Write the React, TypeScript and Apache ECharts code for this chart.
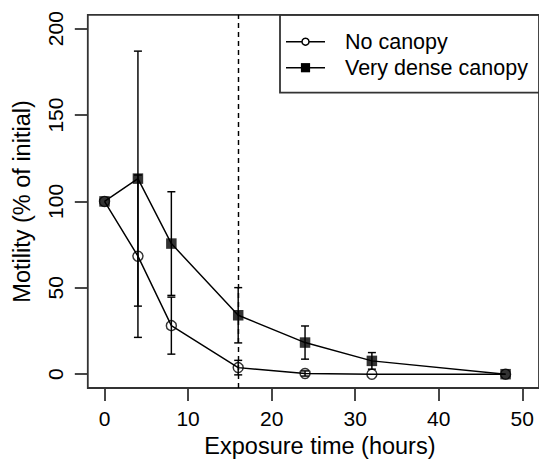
import React, { useEffect, useRef } from "react";
import * as echarts from "echarts";

const hours = [0, 4, 8, 16, 24, 32, 48];
const noCanopy = [100, 68.3, 28.1, 3.8, 0.4, 0, 0];
const noCanopyErr = [0, 47, 16.5, 4.2, 1.5, 0, 0];
const dense = [100, 113.2, 75.6, 34.1, 18.3, 7.7, 0];
const denseErr = [0, 73.8, 30, 16, 9.6, 4.8, 0];
const xTicks = [0, 10, 20, 30, 40, 50];
const yTicks = [0, 50, 100, 150, 200];
const cutoffHour = 16;
const seriesNames = ["No canopy", "Very dense canopy"];
const xTitle = "Exposure time (hours)";
const yTitle = "Motility (% of initial)";

const FONT = "'Liberation Sans', Arial, Helvetica, sans-serif";
const BOX = "#333";
const LW = 1.45;

function pairs(vals: number[]) {
  return hours.map((h, i) => [h, vals[i]]);
}
function errRows(vals: number[], errs: number[]) {
  const out: number[][] = [];
  hours.forEach((h, i) => {
    if (errs[i] > 0) out.push([h, vals[i] - errs[i], vals[i] + errs[i]]);
  });
  return out;
}

const renderErr = (params: any, api: any) => {
  const x = api.value(0);
  const lo = api.value(1);
  const hi = api.value(2);
  const p1 = api.coord([x, lo]);
  const p2 = api.coord([x, hi]);
  const w = 4;
  const style = { stroke: "#000", lineWidth: LW, fill: "none" };
  return {
    type: "group",
    children: [
      { type: "line", shape: { x1: p1[0], y1: p1[1], x2: p2[0], y2: p2[1] }, style },
      { type: "line", shape: { x1: p1[0] - w, y1: p1[1], x2: p1[0] + w, y2: p1[1] }, style },
      { type: "line", shape: { x1: p2[0] - w, y1: p2[1], x2: p2[0] + w, y2: p2[1] }, style },
    ],
  };
};

export default function App() {
  const ref = useRef<HTMLDivElement>(null);
  useEffect(() => {
    if (!ref.current) return;
    const chart = echarts.init(ref.current, null, { renderer: "svg" });
    const gridLeft = 87.8;
    const gridTop = 14.85;
    const legendRows = [41.7, 67.7];
    chart.setOption({
      animation: false,
      backgroundColor: "#fff",
      textStyle: { fontFamily: FONT },
      grid: {
        left: gridLeft,
        right: -1.6,
        top: gridTop,
        bottom: 74.15,
        show: true,
        borderColor: BOX,
        borderWidth: 1.8,
        backgroundColor: "transparent",
      },
      xAxis: {
        type: "value",
        min: -2,
        max: 52,
        splitLine: { show: false },
        axisLine: { show: false, onZero: false },
        axisTick: {
          show: true,
          customValues: xTicks,
          length: 13,
          inside: false,
          lineStyle: { color: BOX, width: 1.8 },
        },
        axisLabel: {
          customValues: xTicks,
          margin: 20,
          fontSize: 21,
          color: "#000",
          fontFamily: FONT,
        },
        name: xTitle,
        nameLocation: "middle",
        nameGap: 46,
        nameTextStyle: {
          fontSize: 23.5,
          color: "#000",
          fontFamily: FONT,
          padding: [0, 0, 0, 13],
        },
      },
      yAxis: {
        type: "value",
        min: -8,
        max: 208,
        splitLine: { show: false },
        axisLine: { show: false, onZero: false },
        axisTick: {
          show: true,
          customValues: yTicks,
          length: 13,
          inside: false,
          lineStyle: { color: BOX, width: 1.8 },
        },
        axisLabel: {
          customValues: yTicks,
          margin: 22,
          rotate: 90,
          fontSize: 21,
          color: "#000",
          fontFamily: FONT,
        },
        name: yTitle,
        nameLocation: "middle",
        nameGap: 54,
        nameRotate: 90,
        nameTextStyle: { fontSize: 23.5, color: "#000", fontFamily: FONT },
      },
      graphic: [
        {
          type: "rect",
          shape: { x: 280, y: gridTop, width: 280, height: 92.7 - gridTop },
          style: { fill: "none", stroke: BOX, lineWidth: 1.8 },
          z: 10,
        },
        {
          type: "line",
          shape: { x1: 286, y1: legendRows[0], x2: 325, y2: legendRows[0] },
          style: { stroke: "#000", lineWidth: LW },
          z: 10,
        },
        {
          type: "circle",
          shape: { cx: 305.5, cy: legendRows[0], r: 3.5 },
          style: { fill: "#fff", stroke: "#000", lineWidth: LW },
          z: 11,
        },
        {
          type: "line",
          shape: { x1: 286, y1: legendRows[1], x2: 325, y2: legendRows[1] },
          style: { stroke: "#000", lineWidth: LW },
          z: 10,
        },
        {
          type: "rect",
          shape: { x: 305.5 - 4.6, y: legendRows[1] - 4.6, width: 9.2, height: 9.2 },
          style: { fill: "#000" },
          z: 11,
        },
        {
          type: "text",
          x: 345,
          y: legendRows[0],
          style: {
            text: seriesNames[0],
            fontSize: 21.5,
            fontFamily: FONT,
            fill: "#000",
            verticalAlign: "middle",
          },
          z: 11,
        },
        {
          type: "text",
          x: 345,
          y: legendRows[1],
          style: {
            text: seriesNames[1],
            fontSize: 21.5,
            fontFamily: FONT,
            fill: "#000",
            verticalAlign: "middle",
          },
          z: 11,
        },
      ],
      series: [
        {
          type: "line",
          name: seriesNames[1],
          data: pairs(dense),
          symbol: "none",
          lineStyle: { color: "#000", width: LW },
          z: 2,
          markLine: {
            silent: true,
            symbol: ["none", "none"],
            label: { show: false },
            lineStyle: { color: "#000", width: LW, type: [5, 4] },
            data: [{ xAxis: cutoffHour }],
          },
        },
        {
          type: "line",
          name: seriesNames[0],
          data: pairs(noCanopy),
          symbol: "none",
          lineStyle: { color: "#000", width: LW },
          z: 2,
        },
        {
          type: "custom",
          name: "err1",
          data: errRows(noCanopy, noCanopyErr),
          encode: { x: 0, y: [1, 2] },
          renderItem: renderErr,
          z: 3,
        },
        {
          type: "custom",
          name: "err2",
          data: errRows(dense, denseErr),
          encode: { x: 0, y: [1, 2] },
          renderItem: renderErr,
          z: 3,
        },
        {
          type: "scatter",
          name: seriesNames[0] + " pts",
          data: pairs(noCanopy),
          symbol: "circle",
          symbolSize: 10,
          itemStyle: { color: "rgba(0,0,0,0)", borderColor: "#000", borderWidth: LW },
          z: 4,
        },
        {
          type: "scatter",
          name: seriesNames[1] + " pts",
          data: pairs(dense),
          symbol: "rect",
          symbolSize: 10.5,
          itemStyle: { color: "#000" },
          z: 5,
        },
      ],
    });
    return () => chart.dispose();
  }, []);
  return (
    <div
      ref={ref}
      style={{ position: "fixed", left: 0, top: 0, width: 539, height: 463 }}
    />
  );
}
